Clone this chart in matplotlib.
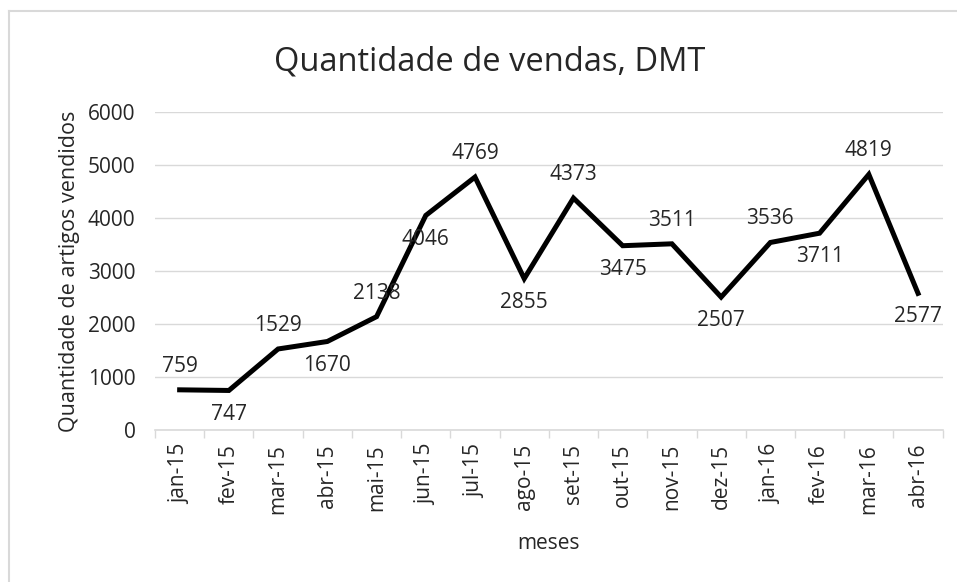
import matplotlib.pyplot as plt
from matplotlib.lines import Line2D
import numpy as np

plt.rcParams['font.family'] = ['Open Sans', 'DejaVu Sans']

meses = ['jan-15', 'fev-15', 'mar-15', 'abr-15', 'mai-15', 'jun-15', 'jul-15', 'ago-15',
         'set-15', 'out-15', 'nov-15', 'dez-15', 'jan-16', 'fev-16', 'mar-16', 'abr-16']
vendas = [759, 747, 1529, 1670, 2138, 4046, 4769, 2855,
          4373, 3475, 3511, 2507, 3536, 3711, 4819, 2577]
# label above (+1) or below (-1) the point
lado = [1, -1, 1, -1, 1, -1, 1, -1, 1, -1, 1, -1, 1, -1, 1, -1]

cinza = '#262626'

fig = plt.figure(figsize=(9.57, 5.82), dpi=100)
ax = fig.add_axes([0.162, 0.261, 0.823, 0.547])

# chart border (top and left edges only)
fig.add_artist(Line2D([9 / 957, 9 / 957], [0, 1 - 11 / 582], transform=fig.transFigure,
                      color='#d9d9d9', lw=1.5))
fig.add_artist(Line2D([9 / 957, 1], [1 - 11 / 582, 1 - 11 / 582], transform=fig.transFigure,
                      color='#d9d9d9', lw=1.5))

x = np.arange(len(meses))
ax.plot(x, vendas, color='black', lw=3.6, solid_joinstyle='miter', zorder=3)

for xi, v, s in zip(x, vendas, lado):
    ax.annotate(str(v), (xi, v), xytext=(0, 17 * s), textcoords='offset points',
                ha='center', va='center', fontsize=15, color=cinza)

ax.set_xlim(-0.5, len(meses) - 0.5)
ax.set_ylim(0, 6000)
ax.set_yticks(range(0, 6001, 1000))
ax.grid(axis='y', color='#d9d9d9', lw=1)
ax.set_axisbelow(True)

ax.set_xticks(x)
ax.set_xticklabels(meses, rotation=90, fontsize=15, color=cinza)
ax.set_xticks(np.arange(-0.5, len(meses)), minor=True)
ax.tick_params(axis='x', which='major', length=0, pad=10)
ax.tick_params(axis='x', which='minor', length=6, color='#d9d9d9', width=1)
ax.tick_params(axis='y', length=0, labelsize=15, labelcolor=cinza, pad=14)

for side in ['top', 'right', 'left']:
    ax.spines[side].set_visible(False)
ax.spines['bottom'].set_color('#d9d9d9')
ax.spines['bottom'].set_linewidth(1.2)

ax.set_ylabel('Quantidade de artigos vendidos', fontsize=15.5, color=cinza, labelpad=6)
ax.set_xlabel('meses', fontsize=15, color=cinza, labelpad=14)
fig.text(0.512, 0.893, 'Quantidade de vendas, DMT', ha='center', va='center',
         fontsize=23.5, color=cinza)

fig.savefig('out.png', dpi=100, facecolor='white')
